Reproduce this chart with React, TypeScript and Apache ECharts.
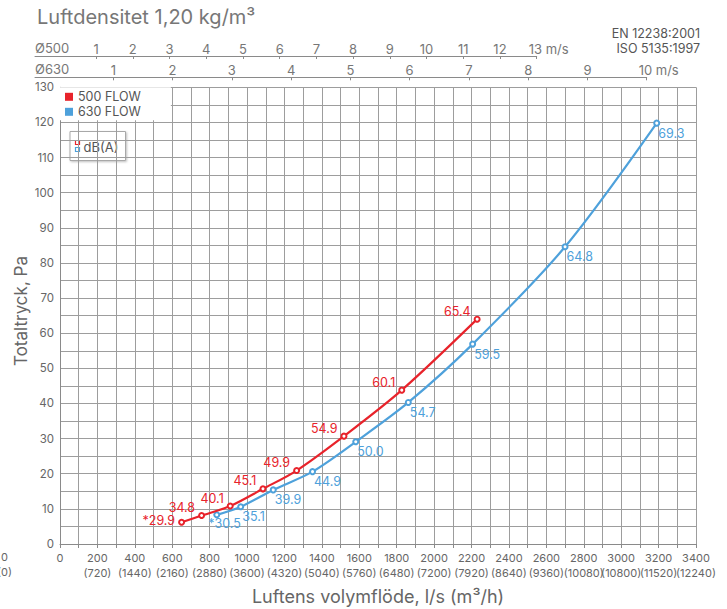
import { useEffect, useRef } from "react";
import * as echarts from "echarts";

const RED = "#e8232b";
const BLUE = "#4ea1db";
const FONT = "Inter, 'Noto Sans', sans-serif";

// Flow (l/s) and total pressure (Pa) for each fan, with dB(A) labels
const redFlow = [650, 757, 910, 1085, 1265, 1518, 1827, 2230];
const redPressure = [6.2, 8.1, 10.8, 15.7, 20.9, 30.7, 43.8, 64.0];
const redDb = ["*29.9", "34.8", "40.1", "45.1", "49.9", "54.9", "60.1", "65.4"];

const blueFlow = [838, 966, 1140, 1350, 1581, 1862, 2206, 2700, 3190];
const bluePressure = [8.3, 10.6, 15.4, 20.6, 29.1, 40.3, 56.9, 84.6, 119.8];
const blueDb = ["*30.5", "35.1", "39.9", "44.9", "50.0", "54.7", "59.5", "64.8", "69.3"];

// Bottom axis tick labels
const flowTicks = [0, 200, 400, 600, 800, 1000, 1200, 1400, 1600, 1800, 2000, 2200, 2400, 2600, 2800, 3000, 3200, 3400];
const m3hTicks = ["(0)", "(720)", "(1440)", "(2160)", "(2880)", "(3600)", "(4320)", "(5040)", "(5760)", "(6480)", "(7200)", "(7920)", "(8640)", "(9360)", "(10080)", "(10800)", "(11520)", "(12240)"];

// Velocity scales
const v500Ticks = [1, 2, 3, 4, 5, 6, 7, 8, 9, 10, 11, 12, 13];
const v630Ticks = [1, 2, 3, 4, 5, 6, 7, 8, 9, 10];

const AXIS_GRAY = "#8a8a8a";
const GRID_GRAY = "#9d9d9d";
const TEXT_GRAY = "#666";

export default function App() {
  const ref = useRef<HTMLDivElement>(null);

  useEffect(() => {
    const chart = echarts.init(ref.current!, null, { renderer: "svg" });

    const redData = redFlow.map((x, i) => {
      const d: any = { value: [x, redPressure[i]] };
      if (i === 0) d.label = { offset: [0, -2] };
      return d;
    });
    const blueData = blueFlow.map((x, i) => {
      const d: any = { value: [x, bluePressure[i]] };
      if (i === 0) d.label = { offset: [-12, 9] };
      return d;
    });

    const velLabel = (last: number) => (v: number) =>
      v === last ? `{p|}{n|${v} m/s}` : String(v);

    const velAxis = (gridIndex: number, min: number, max: number, ticks: number[], last: number) => ({
      type: "value",
      gridIndex,
      position: "top",
      min,
      max,
      axisLine: { show: true, onZero: false, lineStyle: { color: AXIS_GRAY, width: 1 } },
      axisTick: { show: true, inside: true, length: 3, customValues: ticks, lineStyle: { color: AXIS_GRAY } },
      splitLine: { show: false },
      axisLabel: {
        customValues: ticks,
        color: "#777",
        fontSize: 13,
        margin: 1,
        fontFamily: FONT,
        formatter: velLabel(last),
        rich: { p: { width: 24 }, n: { fontSize: 13, color: "#777", fontFamily: FONT } },
      },
    });

    chart.setOption({
      animation: false,
      textStyle: { fontFamily: FONT },
      grid: [
        { left: 60, right: 31, top: 87.3, bottom: 65 },
        { left: 35, width: 501.7, top: 56, height: 10 },
        { left: 35, width: 611.7, top: 77.3, height: 5 },
      ],
      xAxis: [
        {
          type: "value",
          gridIndex: 0,
          min: 0,
          max: 3400,
          interval: 100,
          axisLine: { show: true, lineStyle: { color: AXIS_GRAY, width: 1 } },
          axisTick: { show: true, length: 4, lineStyle: { color: AXIS_GRAY } },
          splitLine: { show: true, lineStyle: { color: GRID_GRAY, width: 1 } },
          axisLabel: {
            color: TEXT_GRAY,
            fontSize: 11,
            lineHeight: 15,
            margin: 6,
            fontFamily: FONT,
            formatter: (v: number) => {
              const i = flowTicks.indexOf(v);
              if (i < 0) return "";
              if (i === 0) return "0";
              return `${v}\n${m3hTicks[i]}`;
            },
          },
        },
        velAxis(1, -0.663, 13, v500Ticks, 13),
        velAxis(2, -0.3206, 10, v630Ticks, 10),
      ],
      yAxis: [
        {
          type: "value",
          gridIndex: 0,
          min: 0,
          max: 130,
          interval: 5,
          axisLine: { show: true, lineStyle: { color: AXIS_GRAY, width: 1 } },
          axisTick: { show: false },
          splitLine: { show: true, lineStyle: { color: GRID_GRAY, width: 1 } },
          axisLabel: {
            color: TEXT_GRAY,
            fontSize: 11.5,
            margin: 6,
            fontFamily: FONT,
            formatter: (v: number) => (v % 10 === 0 ? String(v) : ""),
          },
        },
        { type: "value", gridIndex: 1, show: false, min: 0, max: 1 },
        { type: "value", gridIndex: 2, show: false, min: 0, max: 1 },
      ],
      legend: {
        orient: "vertical",
        left: 60,
        top: 87.3,
        icon: "rect",
        itemWidth: 8,
        itemHeight: 8,
        itemGap: 2,
        padding: [3, 30, 2, 5],
        backgroundColor: "#fff",
        selectedMode: false,
        textStyle: { color: "#555", fontSize: 12.5, fontFamily: FONT },
        data: [
          { name: "500 FLOW", itemStyle: { color: RED, borderWidth: 0 } },
          { name: "630 FLOW", itemStyle: { color: BLUE, borderWidth: 0 } },
        ],
      },
      graphic: [
        {
          type: "text",
          x: 37,
          y: 17,
          style: { text: "Luftdensitet 1,20 kg/m³", fill: "#777", font: `20px ${FONT}`, textVerticalAlign: "middle" },
        },
        {
          type: "text",
          x: 700,
          y: 33,
          style: { text: "EN 12238:2001", fill: "#555", font: `12.5px ${FONT}`, textAlign: "right", textVerticalAlign: "middle" },
        },
        {
          type: "text",
          x: 700,
          y: 48,
          style: { text: "ISO 5135:1997", fill: "#555", font: `12.5px ${FONT}`, textAlign: "right", textVerticalAlign: "middle" },
        },
        {
          type: "text",
          x: 35,
          y: 48.3,
          style: { text: "Ø500", fill: "#777", font: `13px ${FONT}`, textAlign: "left", textVerticalAlign: "middle" },
        },
        {
          type: "text",
          x: 35,
          y: 69.3,
          style: { text: "Ø630", fill: "#777", font: `13px ${FONT}`, textAlign: "left", textVerticalAlign: "middle" },
        },
        {
          type: "text",
          x: 378,
          y: 596,
          style: { text: "Luftens volymflöde, l/s (m³/h)", fill: TEXT_GRAY, font: `18px ${FONT}`, textAlign: "center", textVerticalAlign: "middle" },
        },
        {
          type: "text",
          x: 21,
          y: 311,
          rotation: Math.PI / 2,
          style: { text: "Totaltryck, Pa", fill: TEXT_GRAY, font: `17px ${FONT}`, textAlign: "center", textVerticalAlign: "middle" },
        },
        {
          type: "text",
          x: 4.5,
          y: 549,
          style: { text: "0\n(0)", fill: TEXT_GRAY, font: `11px ${FONT}`, lineHeight: 15, textAlign: "center" },
        },
        {
          type: "group",
          z: 50,
          children: [
            {
              type: "rect",
              shape: { x: 70, y: 131.5, width: 55.5, height: 29 },
              style: { fill: "#fff", stroke: "#a8a8a8", lineWidth: 1, shadowBlur: 2, shadowColor: "rgba(0,0,0,0.25)", shadowOffsetX: 1, shadowOffsetY: 1 },
            },
            {
              type: "rect",
              shape: { x: 75.5, y: 140.5, width: 4, height: 4 },
              style: { fill: "#fff", stroke: RED, lineWidth: 1.2 },
            },
            {
              type: "rect",
              shape: { x: 75.5, y: 147.5, width: 4, height: 4 },
              style: { fill: "#fff", stroke: BLUE, lineWidth: 1.2 },
            },
            {
              type: "text",
              x: 83.5,
              y: 146.5,
              style: { text: "dB(A)", fill: "#555", font: `13px ${FONT}`, textVerticalAlign: "middle" },
            },
          ],
        },
      ],
      series: [
        {
          name: "500 FLOW",
          type: "line",
          xAxisIndex: 0,
          yAxisIndex: 0,
          data: redData,
          smooth: 0.3,
          symbol: "emptyCircle",
          symbolSize: 5,
          z: 5,
          itemStyle: { color: RED, borderWidth: 1.2 },
          lineStyle: { color: RED, width: 2.2 },
          label: {
            show: true,
            position: "left",
            distance: 3,
            offset: [0, -8],
            color: RED,
            fontSize: 12.5,
            fontFamily: FONT,
            formatter: (p: any) => redDb[p.dataIndex],
          },
        },
        {
          name: "630 FLOW",
          type: "line",
          xAxisIndex: 0,
          yAxisIndex: 0,
          data: blueData,
          smooth: 0.3,
          symbol: "emptyCircle",
          symbolSize: 5,
          z: 4,
          itemStyle: { color: BLUE, borderWidth: 1.2 },
          lineStyle: { color: BLUE, width: 2.2 },
          label: {
            show: true,
            position: "right",
            distance: 0,
            offset: [-2, 10],
            color: BLUE,
            fontSize: 12.5,
            fontFamily: FONT,
            formatter: (p: any) => blueDb[p.dataIndex],
          },
        },
      ],
    });

    return () => chart.dispose();
  }, []);

  return (
    <div
      ref={ref}
      style={{ position: "absolute", left: 0, top: 0, width: 727, height: 609 }}
    />
  );
}
